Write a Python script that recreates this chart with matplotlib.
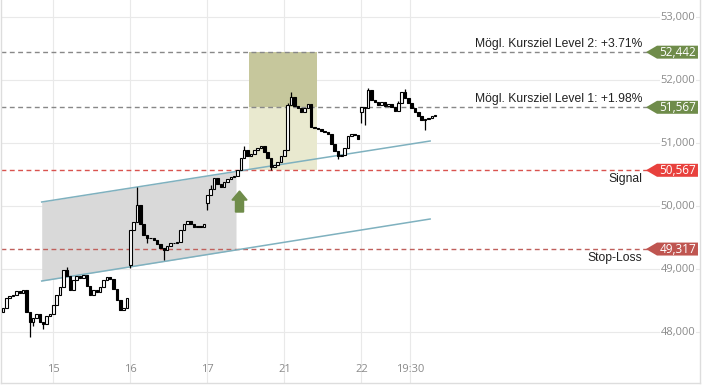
import matplotlib.pyplot as plt
import matplotlib.transforms as mtransforms
import numpy as np

# candle closes, one every ~20 min
closes = [48380, 48540, 48570, 48590, 48650, 48620, 48670, 48320, 48160, 48220,
          48290, 48160, 48130, 48250, 48290, 48430, 48590, 48710, 48980, 48890,
          48670, 48830, 48890, 48860, 48900, 48730, 48590, 48670, 48640, 48710,
          48830, 48870, 48840, 48680, 48510, 48350, 48380, 48540, 49620, 49750,
          50020, 49710, 49540, 49490, 49490, 49460, 49400, 49330, 49300, 49360,
          49410, 49410, 49430, 49620, 49710, 49760, 49710, 49670, 49680, 49670,
          49710, 50170, 50270, 50445, 50350, 50300, 50380, 50430, 50460, 50480,
          50570, 50760, 50890, 50790, 50830, 50890, 50920, 50950, 50860, 50760,
          50620, 50650, 50700, 50790, 50890, 51600, 51730, 51590, 51560, 51490,
          51560, 51620, 51250, 51240, 51220, 51190, 51170, 51140, 50980, 50870,
          50790, 50810, 50920, 51110, 51140, 51130, 51060, 51570, 51560, 51840,
          51680, 51650, 51600, 51650, 51590, 51620, 51570, 51510, 51640, 51810,
          51710, 51640, 51560, 51490, 51430, 51370, 51380, 51400, 51430, 51450]
first_open = 48320
gap_opens = {38: 49060, 61: 50050, 107: 51490}
highs = {19: 49040, 40: 50300, 72: 50950, 86: 51810, 109: 51870, 62: 50330,
         85: 51640, 118: 51660, 120: 51850}
lows = {8: 47920, 12: 48050, 38: 49010, 48: 49140, 61: 49940, 107: 51320,
        108: 51290, 126: 51210, 43: 49420, 80: 50570, 100: 50740, 9: 48100}

day_ticks = [15, 38, 61, 84, 107, 121.5]
day_labels = ['15', '16', '17', '21', '22', '19:30']
price_ticks = [48000, 49000, 50000, 51000, 52000, 53000]

target2 = 52442
target1 = 51567
signal = 50567
stop_loss = 49317
target2_txt = 'Mögl. Kursziel Level 2: +3.71%'
target1_txt = 'Mögl. Kursziel Level 1: +1.98%'

# trend channel (index, price)
chan_x = [11.55, 127.5]
chan_up = [50064, 51032]
chan_lo = [48810, 49794]
chan_fill_end = 69.55
box_x = [73.4, 93.7]
arrow_x = 70.6
arrow_y = [49905, 50238]

green = '#6f8c4a'
red = '#e8413d'
stop_red = '#bf5550'

fig = plt.figure(figsize=(7.11, 3.92), dpi=100)
ax = fig.add_axes([1 / 711, 9 / 392, 699 / 711, 383 / 392])
ax.set_xlim(-0.6, 208.06)
ax.set_ylim(47191, 53270)
ax.set_xticks([])
ax.set_yticks([])
for s in ax.spines.values():
    s.set_color('#dddddd')
    s.set_linewidth(1)
ax.spines['top'].set_visible(False)

for t in day_ticks:
    ax.axvline(t, color='#e9e9e9', lw=0.8, zorder=0)
for p in price_ticks:
    ax.axhline(p, color='#e9e9e9', lw=0.8, zorder=0)

# target boxes
ax.fill_between(box_x, target1, target2, color='#c6c79c', zorder=1, lw=0)
ax.fill_between(box_x, signal, target1, color='#e9e9cf', zorder=1, lw=0)

# channel
slope_up = (chan_up[1] - chan_up[0]) / (chan_x[1] - chan_x[0])
slope_lo = (chan_lo[1] - chan_lo[0]) / (chan_x[1] - chan_x[0])
fx = np.array([chan_x[0], chan_fill_end])
ax.fill_between(fx, chan_lo[0] + slope_lo * (fx - chan_x[0]),
                chan_up[0] + slope_up * (fx - chan_x[0]),
                color='#d9d9d9', zorder=1, lw=0)
ax.plot(chan_x, chan_up, color='#7fb1bf', lw=1.1, zorder=3)
ax.plot(chan_x, chan_lo, color='#7fb1bf', lw=1.1, zorder=3)

# level lines
ax.axhline(target2, color='#888888', lw=1, dashes=(3.5, 2.5), zorder=2)
ax.axhline(target1, color='#888888', lw=1, dashes=(3.5, 2.5), zorder=2)
ax.axhline(signal, color='#d9534f', lw=1, dashes=(3.5, 2.5), zorder=2)
ax.axhline(stop_loss, color='#c0605c', lw=1, dashes=(3.5, 2.5), zorder=2)

# candles
xs = np.arange(len(closes))
opens = [first_open] + closes[:-1]
for k, v in gap_opens.items():
    opens[k] = v
for i in xs:
    o, c = opens[i], closes[i]
    hi = highs.get(i, max(o, c))
    lo = lows.get(i, min(o, c))
    ax.vlines(i, lo, hi, color='black', lw=0.9, zorder=4)
    ax.bar(i, c - o, bottom=o, width=0.75,
           color='white' if c >= o else 'black', edgecolor='black',
           lw=0.8, zorder=5)

# up arrow
hw, sw, hl = 2.25, 1.2, 143
ax_pts = [(arrow_x - sw, arrow_y[0]), (arrow_x - sw, arrow_y[1] - hl),
          (arrow_x - hw, arrow_y[1] - hl), (arrow_x, arrow_y[1]),
          (arrow_x + hw, arrow_y[1] - hl), (arrow_x + sw, arrow_y[1] - hl),
          (arrow_x + sw, arrow_y[0])]
ax.fill([p[0] for p in ax_pts], [p[1] for p in ax_pts], color=green, zorder=6)

# price labels on the right
trans = mtransforms.blended_transform_factory(ax.transAxes, ax.transData)
for p in price_ticks:
    ax.text(0.9935, p, f'{p:,}', transform=trans, ha='right', va='center',
            fontsize=8, color='#8a8a8a', family='Open Sans', zorder=7,
            bbox=dict(facecolor='white', edgecolor='none', pad=0.5))
for t, lab in zip(day_ticks, day_labels):
    ax.text(t, 0.036, lab, transform=ax.get_xaxis_transform(), ha='center',
            va='center', fontsize=8, color='#8a8a8a', family='Open Sans')

half = 103
for val, col in [(target2, green), (target1, green), (signal, red),
                 (stop_loss, stop_red)]:
    px = [0.9227, 0.9385, 0.9971, 0.9971, 0.9385]
    py = [val, val + half, val + half, val - half, val - half]
    ax.fill(px, py, color=col, transform=trans, zorder=8, lw=0)
    ax.text(0.968, val, f'{val:,}', transform=trans, ha='center', va='center',
            fontsize=8.5, color='white', family='Open Sans', zorder=9)

lab_kw = dict(transform=trans, ha='right', fontsize=8.7, color='#222222',
              family='Liberation Sans', zorder=9)
ax.text(0.917, target2 + 30, target2_txt, va='bottom', **lab_kw)
ax.text(0.917, target1 + 30, target1_txt, va='bottom', **lab_kw)
ax.text(0.917, signal - 40, 'Signal', va='top', **lab_kw)
ax.text(0.917, stop_loss - 40, 'Stop-Loss', va='top', **lab_kw)

plt.savefig('out.png', dpi=100)
